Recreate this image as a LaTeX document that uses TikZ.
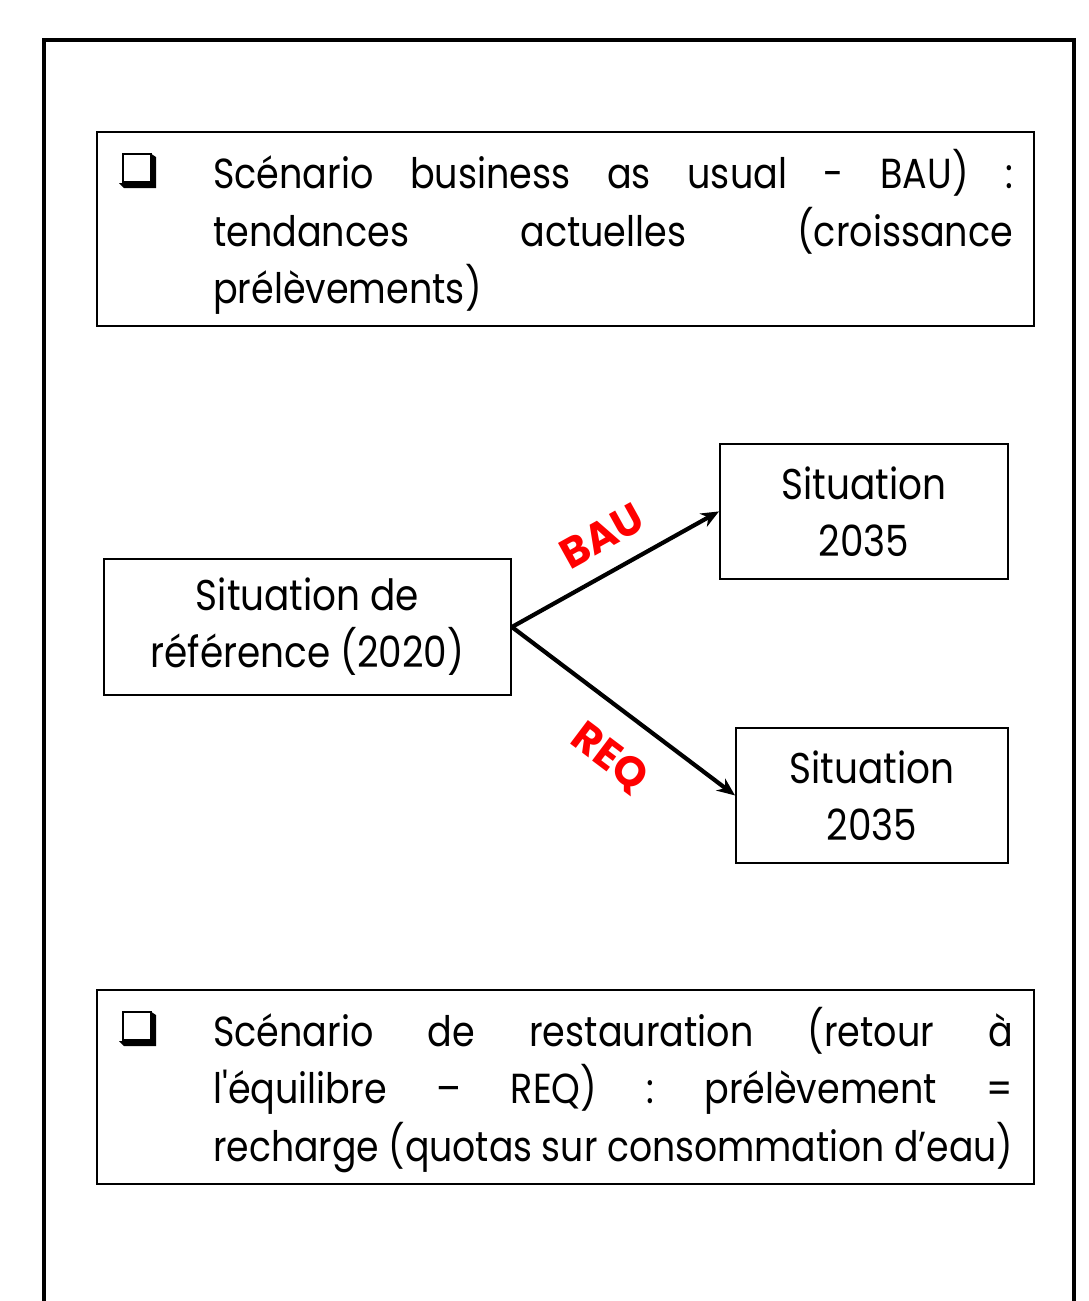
\documentclass[tikz,border=0pt]{standalone}
\usepackage{fontspec}
\setmainfont{Poppins}[FakeStretch=0.87]
\newfontfamily\straightq{Poppins}[FakeStretch=0.87, Ligatures=TeXOff]
\newfontfamily\labelfont{Poppins}
\usetikzlibrary{arrows.meta}
\tikzset{
  box/.style={draw, line width=1.8pt, inner sep=0pt},
  bodytext/.style={font=\fontsize{42}{57}\selectfont, inner sep=0pt, anchor=base west},
  midtext/.style={box, align=center, font=\fontsize{43}{57}\selectfont},
  link/.style={line width=4.2pt, -{Stealth[length=18pt,width=15pt]}},
  scen/.style={text=red, font=\labelfont\bfseries\fontsize{42}{42}\selectfont, inner sep=0pt}
}
\newcommand{\shadowbullet}[2]{%
  \draw[line width=2.6pt] (#1,#2) rectangle ++(28,28);
  \fill (#1+27,#2-1) -- ++(6,4) -- ++(0,31) -- ++(-32,0) -- ++(-5,-5) -- ++(31,0) -- cycle;
}
\begin{document}
\begin{tikzpicture}[x=1pt,y=-1pt]
\useasboundingbox (0,0) rectangle (1088,1301);
\fill[white] (0,0) rectangle (1088,1301);
% outer frame
\draw[line width=3.4pt] (44,1302) -- (44,40) -- (1074,40) -- (1074,1302);

% top box
\node[box, minimum width=937, minimum height=194, anchor=north west] (baubox) at (96,131) {};
\shadowbullet{123}{154}
\node[bodytext] (b1) at (213,188) {\hbox to 800pt{Scénario\hfill business\hfill as\hfill usual\hfill -\hfill BAU)\hfill :}};
\node[bodytext] (b2) at (213,246) {\hbox to 800pt{tendances\hfill actuelles\hfill (croissance}};
\node[bodytext] (b3) at (213,303) {prélèvements)};

% middle
\node[midtext, minimum width=407, minimum height=136] (ref) at (307.5,627) {Situation de\\référence (2020)};
\node[midtext, minimum width=288, minimum height=135, anchor=north west] (s1) at (719,443) {Situation\\2035};
\node[midtext, minimum width=272, minimum height=135, anchor=north west] (s2) at (735,727) {Situation\\2035};
\draw[link] (ref.east) -- (s1.west);
\draw[link] (ref.east) -- (s2.west);
\node[scen, rotate=29] (lbau) at (602,536) {BAU};
\node[scen, rotate=-37] (lreq) at (609,758) {REQ};

% bottom box
\node[box, minimum width=937, minimum height=194, anchor=north west] (reqbox) at (96,989) {};
\shadowbullet{123}{1012}
\node[bodytext] (r1) at (213,1046) {\hbox to 800pt{Scénario\hfill de\hfill restauration\hfill (retour\hfill à}};
\node[bodytext] (r2) at (213,1103) {\hbox to 800pt{l{\straightq'}équilibre\hfill –\hfill REQ)\hfill :\hfill prélèvement\hfill =}};
\node[bodytext] (r3) at (213,1161) {\resizebox{800pt}{\height}{recharge (quotas sur consommation d’eau)}};
\end{tikzpicture}
\end{document}
